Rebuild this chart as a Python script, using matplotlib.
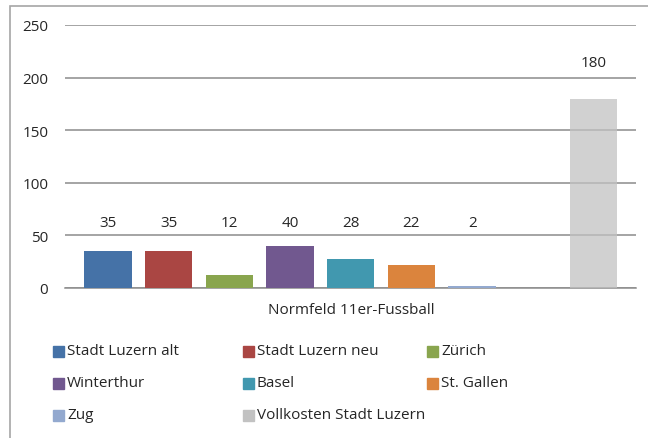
import numpy as np
import matplotlib
matplotlib.use("Agg")
import matplotlib.pyplot as plt
from matplotlib.patches import Rectangle

plt.rcParams['font.family'] = ['Open Sans', 'DejaVu Sans']

category = "Normfeld 11er-Fussball"
series = ["Stadt Luzern alt", "Stadt Luzern neu", "Zürich", "Winterthur",
          "Basel", "St. Gallen", "Zug", "Vollkosten Stadt Luzern"]
values = [35, 35, 12, 40, 28, 22, 2, 180]
colors = ["#4572A7", "#AA4643", "#89A54E", "#71588F",
          "#4198AF", "#DB843D", "#93A9CF", "#C2C2C2"]
# the chart leaves one empty slot before the last bar
slots = [0, 1, 2, 3, 4, 5, 6, 8]

W, H = 648, 439
FS = 11
fig = plt.figure(figsize=(W / 100, H / 100), dpi=100)
ax = fig.add_axes([65 / W, 1 - 289 / H, (636 - 65) / W, (289 - 26) / H])

for s, v, c, name in zip(slots, values, colors, series):
    alpha = 0.75 if name.startswith("Vollkosten") else 1.0
    ax.bar(s, v, width=0.78, color=c, alpha=alpha, zorder=3)
    # labels sit on one line above the small bars
    ly = v + 34 if v > 100 else 62
    ax.text(s, ly, str(v), ha='center', va='center', fontsize=FS, color='#262626')

ax.set_xlim(-0.71, 8.70)
ax.set_ylim(0, 250)
ax.set_yticks(np.arange(0, 251, 50))
ax.set_xticks([])
ax.tick_params(axis='y', length=0, pad=12, labelsize=FS, labelcolor='#262626')
ax.yaxis.grid(True, color='#8C8C8C', linewidth=1.1, zorder=1)
ax.set_axisbelow(True)
for sp in ['top', 'right', 'left']:
    ax.spines[sp].set_visible(False)
ax.spines['bottom'].set_color('#8C8C8C')
ax.spines['bottom'].set_linewidth(1.1)

fig.text(351 / W, 1 - 311 / H, category, ha='center', va='center',
         fontsize=FS, color='#262626')

# legend laid out in rows like the original
col_x = [53, 243, 427]
row_y = [352, 384, 416]
for i, (name, c) in enumerate(zip(series, colors)):
    x = col_x[i % 3]
    y = row_y[i // 3]
    fig.patches.append(Rectangle((x / W, 1 - (y + 5.5) / H), 11 / W, 11 / H,
                                 transform=fig.transFigure, color=c, figure=fig))
    fig.text((x + 14) / W, 1 - y / H, name, ha='left', va='center',
             fontsize=FS, color='#262626')

# outer chart frame
fig.patches.append(Rectangle((10 / W, -0.05), 1.0, 1 - 7 / H + 0.05,
                             transform=fig.transFigure, fill=False,
                             edgecolor='#A6A6A6', linewidth=1.2, figure=fig))

fig.savefig("out.png", dpi=100)
